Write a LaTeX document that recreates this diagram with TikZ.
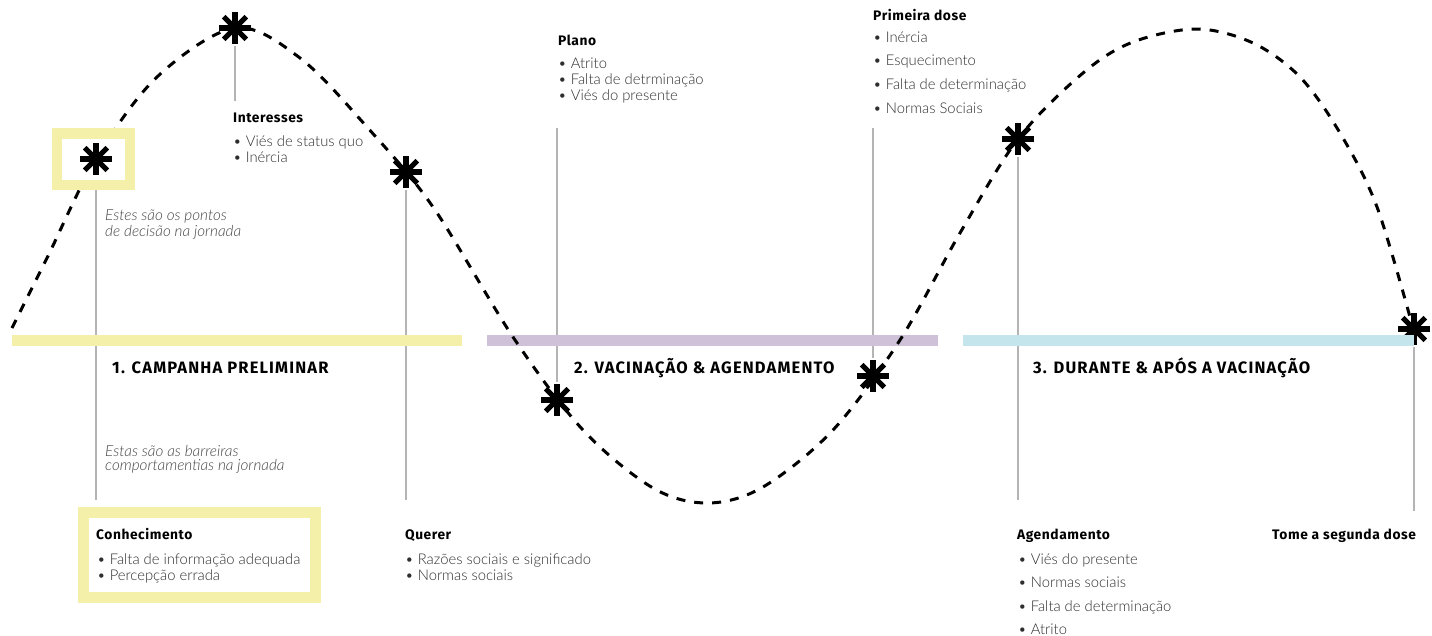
\documentclass[tikz,border=0pt]{standalone}
\usepackage{fontspec}
\setmainfont{Lato}[UprightFont=* Light, ItalicFont=* Light Italic, BoldFont=* Bold]
\newfontfamily\headfont{Fira Sans}[LetterSpace=4]
\newfontfamily\phasefont{Fira Sans}[LetterSpace=7]
\usetikzlibrary{calc}

\definecolor{phaseYellow}{HTML}{F4F0AA}
\definecolor{phasePurple}{HTML}{CFC2D8}
\definecolor{phaseBlue}{HTML}{C5E5EC}
\definecolor{guideGray}{HTML}{B4B4B4}
\definecolor{bodyGray}{HTML}{2E2E2E}
\definecolor{noteGray}{HTML}{444444}

\tikzset{
  guide/.style={draw=guideGray, line width=2.5pt},
  phasebar/.style={line width=11pt},
  journey/.style={line width=3pt, dash pattern=on 9pt off 9pt},
  starmark/.style={circle, minimum size=36pt, inner sep=0pt,
    path picture={
      \foreach \a in {0,45,90,135}
        \draw[line width=5.2pt]
          ([shift={(\a:16pt)}]path picture bounding box.center) --
          ([shift={(\a+180:16pt)}]path picture bounding box.center);
    }},
  hilite/.style={draw=phaseYellow, fill=white, line width=10.5pt, inner sep=0pt},
  heading/.style={anchor=base west, inner sep=0pt, font=\headfont\bfseries\fontsize{13.8}{16}\selectfont, text=black},
  phase/.style={anchor=base west, inner sep=0pt, font=\phasefont\bfseries\fontsize{16.5}{19}\selectfont, text=black},
  item/.style={anchor=base west, inner sep=0pt, font=\fontsize{14.8}{16}\selectfont, text=bodyGray},
  note/.style={anchor=base west, inner sep=0pt, font=\itshape\fontsize{15.3}{16}\selectfont, text=noteGray},
}

\begin{document}
\begin{tikzpicture}[x=1pt, y=-1pt]
\useasboundingbox (0,0) rectangle (1432,635);

% decision stars along the journey
\node[starmark] (s1) at (96,159) {};
\node[starmark] (s2) at (235,28) {};
\node[starmark] (s3) at (406,172) {};
\node[starmark] (s4) at (557,400) {};
\node[starmark] (s5) at (873,376) {};
\node[starmark] (s6) at (1018,139) {};
\node[starmark] (s7) at (1414,329) {};

% free ends of the guide lines
\coordinate (g1) at (96,500);
\coordinate (g2) at (235,101);
\coordinate (g3) at (406,500);
\coordinate (g4) at (557,128);
\coordinate (g5) at (873,128);
\coordinate (g6) at (1018,500);
\coordinate (g7) at (1414,511);

% guide lines (behind the bars)
\draw[guide] (96,190) -- (g1);
\draw[guide] (s2) -- (g2);
\draw[guide] (s3) -- (g3);
\draw[guide] (g4) -- (s4);
\draw[guide] (g5) -- (s5);
\draw[guide] (s6) -- (g6);
\draw[guide] (s7) -- (g7);

% phase bars
\draw[phasebar, draw=phaseYellow] (12,340.5) -- (462,340.5);
\draw[phasebar, draw=phasePurple] (487,340.5) -- (938,340.5);
\draw[phasebar, draw=phaseBlue] (963,340.5) -- (1414,340.5);

% the journey curve
\draw[journey] plot[smooth, tension=0.55] coordinates {
  (12,328) (47,258) (96,159) (157,77) (235,28) (300,58) (367,127)
  (433,207) (513,337) (583,430) (653,488) (708,503) (763,487)
  (833,430) (900,340) (960,233) (1018,139) (1083,73) (1133,42)
  (1197,29) (1253,43) (1300,77) (1340,133) (1377,207) (1413,328)};

% highlighted first decision point
\node[hilite, minimum width=73pt, minimum height=51.5pt] (box1) at (93.5,159) {};
\node[starmark] (s1b) at (96,159) {};

% highlighted first barrier
\node[hilite, minimum width=232pt, minimum height=85pt] (box2) at (199.5,555) {};

% phase titles
\node[phase] (ph1) at (112,373) {1. CAMPANHA PRELIMINAR};
\node[phase] (ph2) at (574,373) {2. VACINAÇÃO \& AGENDAMENTO};
\node[phase] (ph3) at (1033,373) {3. DURANTE \& APÓS A VACINAÇÃO};

% explanatory notes
\node[note] (n1a) at (105,220) {Estes são os pontos};
\node[note] (n1b) at (105,236) {de decisão na jornada};
\node[note] (n2a) at (105,456) {Estas são as barreiras};
\node[note] (n2b) at (105,470) {comportamentias na jornada};

% decision points
\node[heading] (h-int) at (233,122) {Interesses};
\foreach \t [count=\i] in {Viés de status quo, Inércia}
  \node[item] (int-\i) at (233,{146+16*(\i-1)}) {• \t};

\node[heading] (h-pla) at (558,45) {Plano};
\foreach \t [count=\i] in {Atrito, Falta de detrminação, Viés do presente}
  \node[item] (pla-\i) at (558,{68+16*(\i-1)}) {• \t};

\node[heading] (h-pri) at (873,20) {Primeira dose};
\foreach \t [count=\i] in {Inércia, Esquecimento, Falta de determinação, Normas Sociais}
  \node[item] (pri-\i) at (873,{42+23.7*(\i-1)}) {• \t};

% barriers
\node[heading] (h-con) at (96,539) {Conhecimento};
\foreach \t [count=\i] in {Falta de informação adequada, Percepção errada}
  \node[item] (con-\i) at (97,{564+16.5*(\i-1)}) {• \t};

\node[heading] (h-que) at (405,539) {Querer};
\foreach \t [count=\i] in {Razões sociais e significado, Normas sociais}
  \node[item] (que-\i) at (405,{564+16.5*(\i-1)}) {• \t};

\node[heading] (h-age) at (1017,539) {Agendamento};
\foreach \t [count=\i] in {Viés do presente, Normas sociais, Falta de determinação, Atrito}
  \node[item] (age-\i) at (1018,{564+23.5*(\i-1)}) {• \t};

\node[heading] (h-tom) at (1272,539) {Tome a segunda dose};
\end{tikzpicture}
\end{document}
